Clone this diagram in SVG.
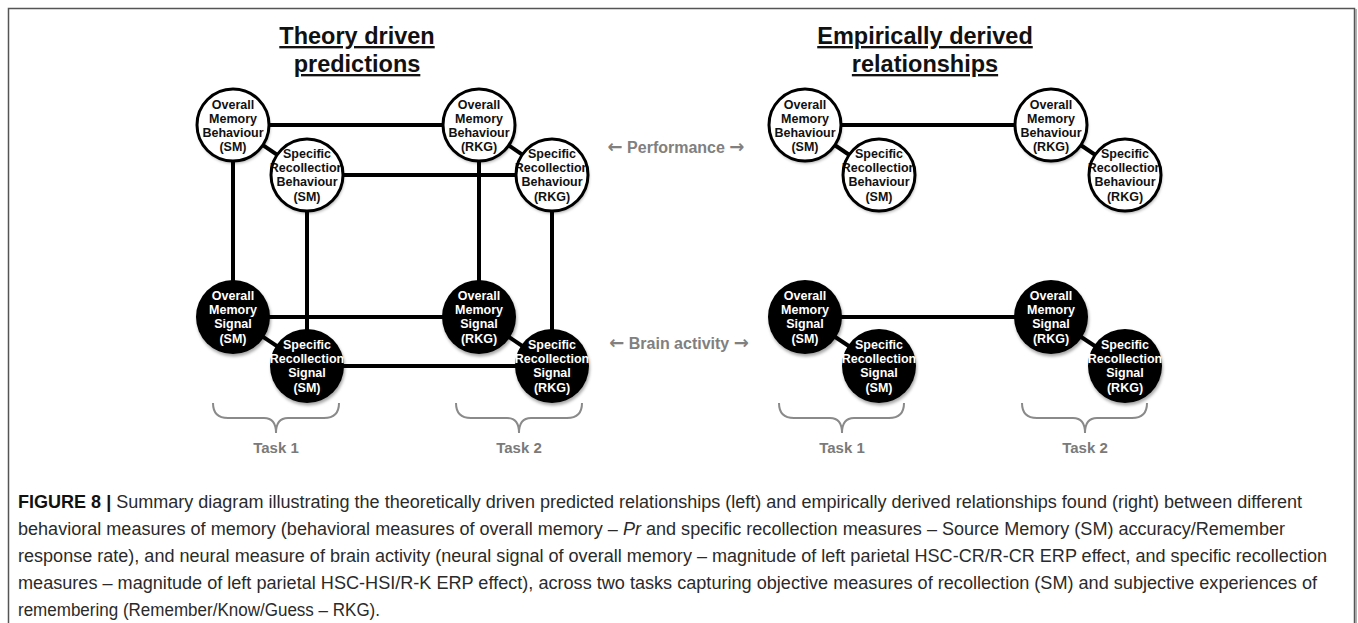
<svg xmlns="http://www.w3.org/2000/svg" width="1358" height="623" viewBox="0 0 1358 623">
<style>
.title{font-family:"Liberation Sans",Arial,sans-serif;font-weight:bold;font-size:23.5px;fill:#111;text-anchor:middle;text-decoration:underline}
.lbl{font-family:"Liberation Sans",Arial,sans-serif;font-weight:bold;font-size:12.5px;text-anchor:middle}
.wn circle.f{fill:#fff}
.bn circle.f{fill:#000}
.wn text{fill:#111}
.bn text{fill:#fff}
circle.s{fill:none;stroke:#000;stroke-width:3}
.conn line{stroke:#000;stroke-width:4}
.side{font-family:"Liberation Sans",Arial,sans-serif;font-weight:bold;font-size:16px;fill:#808080;text-anchor:middle}
.arr{font-family:"DejaVu Sans",sans-serif;font-weight:bold;font-size:18px}
.task{font-family:"Liberation Sans",Arial,sans-serif;font-weight:bold;font-size:15px;fill:#7a7a7a;text-anchor:middle}
.brace{fill:none;stroke:#8a8a8a;stroke-width:2}
.cap{font-family:"Liberation Sans",Arial,sans-serif;font-size:17.5px;fill:#2a2a2a}
.capb{font-weight:bold;fill:#111}
</style>
<defs>
<filter id="sh" x="-20%" y="-20%" width="140%" height="150%">
<feDropShadow dx="1" dy="2.5" stdDeviation="1.5" flood-color="#000" flood-opacity="0.35"/>
</filter>
</defs>
<rect x="8.5" y="8.5" width="1346" height="700" fill="#fff" stroke="#555" stroke-width="1.5"/>
<line x1="1356" y1="9" x2="1356" y2="623" stroke="#999" stroke-width="1.5"/>

<text class="title" x="357" y="44">Theory driven</text>
<text class="title" x="357" y="72">predictions</text>
<text class="title" x="925" y="44">Empirically derived</text>
<text class="title" x="925" y="72">relationships</text>

<g id="connectors" class="conn">
<line x1="233" y1="125" x2="479" y2="125"/>
<line x1="307" y1="175" x2="552" y2="175"/>
<line x1="233" y1="125" x2="307" y2="175"/>
<line x1="479" y1="125" x2="552" y2="175"/>
<line x1="233" y1="125" x2="233" y2="317"/>
<line x1="307" y1="175" x2="307" y2="366"/>
<line x1="479" y1="125" x2="479" y2="317"/>
<line x1="552" y1="175" x2="552" y2="366"/>
<line x1="233" y1="317" x2="479" y2="317"/>
<line x1="307" y1="366" x2="552" y2="366"/>
<line x1="233" y1="317" x2="307" y2="366"/>
<line x1="479" y1="317" x2="552" y2="366"/>
<line x1="805" y1="125" x2="1051" y2="125"/>
<line x1="805" y1="125" x2="879" y2="175"/>
<line x1="1051" y1="125" x2="1125" y2="175"/>
<line x1="805" y1="317" x2="1051" y2="317"/>
<line x1="805" y1="317" x2="879" y2="366"/>
<line x1="1051" y1="317" x2="1125" y2="366"/>
</g>

<g id="L-OMB-SM" class="wn"><circle class="f" cx="233" cy="125" r="36" filter="url(#sh)"/><text class="lbl" x="233" y="109">Overall</text><text class="lbl" x="233" y="123">Memory</text><text class="lbl" x="233" y="137">Behaviour</text><text class="lbl" x="233" y="151">(SM)</text><circle class="s" cx="233" cy="125" r="36"/></g>
<g id="L-SRB-SM" class="wn"><circle class="f" cx="307" cy="175" r="36" filter="url(#sh)"/><text class="lbl" x="307" y="158">Specific</text><text class="lbl" x="307" y="172">Recollection</text><text class="lbl" x="307" y="186">Behaviour</text><text class="lbl" x="307" y="201">(SM)</text><circle class="s" cx="307" cy="175" r="36"/></g>
<g id="L-OMB-RKG" class="wn"><circle class="f" cx="479" cy="125" r="36" filter="url(#sh)"/><text class="lbl" x="479" y="109">Overall</text><text class="lbl" x="479" y="123">Memory</text><text class="lbl" x="479" y="137">Behaviour</text><text class="lbl" x="479" y="151">(RKG)</text><circle class="s" cx="479" cy="125" r="36"/></g>
<g id="L-SRB-RKG" class="wn"><circle class="f" cx="552" cy="175" r="36" filter="url(#sh)"/><text class="lbl" x="552" y="158">Specific</text><text class="lbl" x="552" y="172">Recollection</text><text class="lbl" x="552" y="186">Behaviour</text><text class="lbl" x="552" y="201">(RKG)</text><circle class="s" cx="552" cy="175" r="36"/></g>
<g id="L-OMS-SM" class="bn"><circle class="f" cx="233" cy="317" r="37" filter="url(#sh)"/><text class="lbl" x="233" y="300">Overall</text><text class="lbl" x="233" y="314">Memory</text><text class="lbl" x="233" y="328">Signal</text><text class="lbl" x="233" y="343">(SM)</text></g>
<g id="L-SRS-SM" class="bn"><circle class="f" cx="307" cy="366" r="37" filter="url(#sh)"/><text class="lbl" x="307" y="349">Specific</text><text class="lbl" x="307" y="363">Recollection</text><text class="lbl" x="307" y="377">Signal</text><text class="lbl" x="307" y="392">(SM)</text></g>
<g id="L-OMS-RKG" class="bn"><circle class="f" cx="479" cy="317" r="37" filter="url(#sh)"/><text class="lbl" x="479" y="300">Overall</text><text class="lbl" x="479" y="314">Memory</text><text class="lbl" x="479" y="328">Signal</text><text class="lbl" x="479" y="343">(RKG)</text></g>
<g id="L-SRS-RKG" class="bn"><circle class="f" cx="552" cy="366" r="37" filter="url(#sh)"/><text class="lbl" x="552" y="349">Specific</text><text class="lbl" x="552" y="363">Recollection</text><text class="lbl" x="552" y="377">Signal</text><text class="lbl" x="552" y="392">(RKG)</text></g>

<g id="R-OMB-SM" class="wn"><circle class="f" cx="805" cy="125" r="36" filter="url(#sh)"/><text class="lbl" x="805" y="109">Overall</text><text class="lbl" x="805" y="123">Memory</text><text class="lbl" x="805" y="137">Behaviour</text><text class="lbl" x="805" y="151">(SM)</text><circle class="s" cx="805" cy="125" r="36"/></g>
<g id="R-SRB-SM" class="wn"><circle class="f" cx="879" cy="175" r="36" filter="url(#sh)"/><text class="lbl" x="879" y="158">Specific</text><text class="lbl" x="879" y="172">Recollection</text><text class="lbl" x="879" y="186">Behaviour</text><text class="lbl" x="879" y="201">(SM)</text><circle class="s" cx="879" cy="175" r="36"/></g>
<g id="R-OMB-RKG" class="wn"><circle class="f" cx="1051" cy="125" r="36" filter="url(#sh)"/><text class="lbl" x="1051" y="109">Overall</text><text class="lbl" x="1051" y="123">Memory</text><text class="lbl" x="1051" y="137">Behaviour</text><text class="lbl" x="1051" y="151">(RKG)</text><circle class="s" cx="1051" cy="125" r="36"/></g>
<g id="R-SRB-RKG" class="wn"><circle class="f" cx="1125" cy="175" r="36" filter="url(#sh)"/><text class="lbl" x="1125" y="158">Specific</text><text class="lbl" x="1125" y="172">Recollection</text><text class="lbl" x="1125" y="186">Behaviour</text><text class="lbl" x="1125" y="201">(RKG)</text><circle class="s" cx="1125" cy="175" r="36"/></g>
<g id="R-OMS-SM" class="bn"><circle class="f" cx="805" cy="317" r="37" filter="url(#sh)"/><text class="lbl" x="805" y="300">Overall</text><text class="lbl" x="805" y="314">Memory</text><text class="lbl" x="805" y="328">Signal</text><text class="lbl" x="805" y="343">(SM)</text></g>
<g id="R-SRS-SM" class="bn"><circle class="f" cx="879" cy="366" r="37" filter="url(#sh)"/><text class="lbl" x="879" y="349">Specific</text><text class="lbl" x="879" y="363">Recollection</text><text class="lbl" x="879" y="377">Signal</text><text class="lbl" x="879" y="392">(SM)</text></g>
<g id="R-OMS-RKG" class="bn"><circle class="f" cx="1051" cy="317" r="37" filter="url(#sh)"/><text class="lbl" x="1051" y="300">Overall</text><text class="lbl" x="1051" y="314">Memory</text><text class="lbl" x="1051" y="328">Signal</text><text class="lbl" x="1051" y="343">(RKG)</text></g>
<g id="R-SRS-RKG" class="bn"><circle class="f" cx="1125" cy="366" r="37" filter="url(#sh)"/><text class="lbl" x="1125" y="349">Specific</text><text class="lbl" x="1125" y="363">Recollection</text><text class="lbl" x="1125" y="377">Signal</text><text class="lbl" x="1125" y="392">(RKG)</text></g>

<text class="side" x="676" y="153"><tspan class="arr">←</tspan> Performance <tspan class="arr">→</tspan></text>
<text class="side" x="679" y="349"><tspan class="arr">←</tspan> Brain activity <tspan class="arr">→</tspan></text>

<g id="braces">
<path class="brace" d="M213,403 Q213,418 228,418 L264,418 Q276,418 276,433 Q276,418 288,418 L324,418 Q339,418 339,403"/>
<path class="brace" d="M456,403 Q456,418 471,418 L507,418 Q519,418 519,433 Q519,418 531,418 L567,418 Q582,418 582,403"/>
<path class="brace" d="M779,403 Q779,418 794,418 L830,418 Q842,418 842,433 Q842,418 854,418 L889,418 Q904,418 904,403"/>
<path class="brace" d="M1022,403 Q1022,418 1037,418 L1073,418 Q1085,418 1085,433 Q1085,418 1097,418 L1132,418 Q1147,418 1147,403"/>
</g>
<text class="task" x="276" y="453">Task 1</text>
<text class="task" x="519" y="453">Task 2</text>
<text class="task" x="842" y="453">Task 1</text>
<text class="task" x="1085" y="453">Task 2</text>

<g id="caption">
<text class="cap" x="18" y="508" textLength="1284" lengthAdjust="spacingAndGlyphs"><tspan class="capb">FIGURE 8 |</tspan> Summary diagram illustrating the theoretically driven predicted relationships (left) and empirically derived relationships found (right) between different</text>
<text class="cap" x="18" y="535" textLength="1267" lengthAdjust="spacingAndGlyphs">behavioral measures of memory (behavioral measures of overall memory – <tspan font-style="italic">Pr</tspan> and specific recollection measures – Source Memory (SM) accuracy/Remember</text>
<text class="cap" x="18" y="562" textLength="1309" lengthAdjust="spacingAndGlyphs">response rate), and neural measure of brain activity (neural signal of overall memory – magnitude of left parietal HSC-CR/R-CR ERP effect, and specific recollection</text>
<text class="cap" x="18" y="589" textLength="1299" lengthAdjust="spacingAndGlyphs">measures – magnitude of left parietal HSC-HSI/R-K ERP effect), across two tasks capturing objective measures of recollection (SM) and subjective experiences of</text>
<text class="cap" x="18" y="616" textLength="362" lengthAdjust="spacingAndGlyphs">remembering (Remember/Know/Guess – RKG).</text>
</g>
</svg>
